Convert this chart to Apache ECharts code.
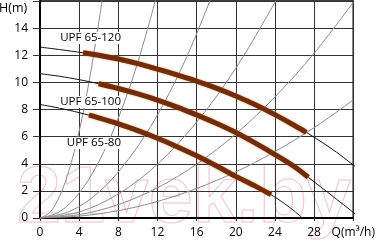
<!DOCTYPE html>
<html><head><meta charset="utf-8">
<script src="https://cdn.jsdelivr.net/npm/echarts@6/dist/echarts.min.js"></script>
<style>html,body{margin:0;padding:0;background:#fff}#c{width:378px;height:246px}</style>
</head><body><div id="c"></div>
<script>
// axis ticks
const xTicks = [0, 4, 8, 12, 16, 20, 24, 28];
const yTicks = [0, 2, 4, 6, 8, 10, 12, 14];
const xName = 'Q(m³/h)';
const yName = 'H(m)';

// pump curves (Q in m3/h, H in m)
const pumpNames = ['UPF 65-120', 'UPF 65-100', 'UPF 65-80'];
const q120 = [0, 2, 4.4, 6, 8, 10, 12, 14, 16, 18, 20, 22, 24, 26, 27.2, 30, 32.2];
const h120 = [12.6, 12.42, 12.18, 12.0, 11.72, 11.38, 10.98, 10.55, 10.1, 9.58, 9.0, 8.35, 7.62, 6.82, 6.32, 5.0, 3.8];
const q100 = [0, 2, 4, 6, 8, 10, 12, 14, 16, 18, 20, 22, 24, 26, 27.4, 30, 32.2];
const h100 = [10.64, 10.45, 10.2, 9.9, 9.55, 9.15, 8.7, 8.18, 7.6, 6.98, 6.3, 5.52, 4.68, 3.78, 3.0, 1.55, 0.3];
const q80 = [0, 2, 4, 5, 6, 8, 10, 12, 14, 16, 18, 20, 22, 23.6, 25, 26, 26.8];
const h80 = [8.37, 8.1, 7.77, 7.58, 7.38, 6.94, 6.44, 5.88, 5.26, 4.59, 3.85, 3.07, 2.35, 1.72, 1.05, 0.5, 0];
// working ranges (thick brown part)
const work120 = [4.4, 27.2];
const work100 = [6, 27.4];
const work80 = [5, 23.6];

// system curves (grey)
const s1Q = [0, 1, 2, 3, 4, 5, 6, 6.6];
const s1H = [0, 0.4, 1.6, 3.6, 6.4, 10, 14.4, 17.4];
const s2Q = [0, 2, 4, 6, 8, 10, 12];
const s2H = [0, 0.46, 1.84, 4.14, 7.36, 11.5, 16.6];
const s3Q = [0, 3, 6, 9, 12, 15, 18];
const s3H = [0, 0.48, 1.9, 4.3, 7.6, 11.9, 17.2];
const s4Q = [0, 4, 8, 12, 16, 20, 24, 25];
const s4H = [0, 0.44, 1.77, 3.97, 7.07, 11.04, 15.9, 17.25];
const s5Q = [0, 4, 8, 12, 16, 20, 24, 28, 32];
const s5H = [0, 0.25, 0.99, 2.23, 3.97, 6.2, 8.93, 12.15, 15.9];
const s6Q = [0, 4, 8, 12, 16, 20, 24, 28, 32];
const s6H = [0, 0.14, 0.54, 1.22, 2.18, 3.4, 4.9, 6.66, 8.7];

const zip = (q, h) => q.map((v, i) => [v, h[i]]);
const part = (q, h, r) => zip(q, h).filter(p => p[0] >= r[0] - 1e-9 && p[0] <= r[1] + 1e-9);

const FONT = 'Open Sans';
const sysSeries = [[s1Q, s1H], [s2Q, s2H], [s3Q, s3H], [s4Q, s4H], [s5Q, s5H], [s6Q, s6H]].map(([q, h]) => ({
  type: 'line', data: zip(q, h), smooth: 0.35, symbol: 'none', silent: true, z: 3,
  lineStyle: { color: '#8c8c8c', width: 1 }
}));
const pumps = [[q120, h120, work120], [q100, h100, work100], [q80, h80, work80]];
const thinSeries = pumps.map(([q, h]) => ({
  type: 'line', data: zip(q, h), smooth: 0.3, symbol: 'none', silent: true, z: 4,
  lineStyle: { color: '#111', width: 1 }
}));
const thickSeries = pumps.map(([q, h, r]) => ({
  type: 'line', data: part(q, h, r), smooth: 0.3, symbol: 'none', silent: true, z: 5,
  lineStyle: { color: '#712c0b', width: 5, cap: 'butt', shadowColor: 'rgba(230,120,40,0.85)', shadowBlur: 2 }
}));

const chart = echarts.init(document.getElementById('c'), null, { renderer: 'canvas' });
chart.setOption({
  animation: false,
  backgroundColor: '#fff',
  grid: { left: 40, right: 24, top: 1, bottom: 28, show: true, borderColor: '#000', borderWidth: 1.5, backgroundColor: 'transparent' },
  xAxis: {
    type: 'value', min: 0, max: 32, interval: 4,
    axisLine: { lineStyle: { color: '#000', width: 2 } },
    axisTick: { show: true, length: 3, lineStyle: { color: '#333' } },
    splitLine: { show: true, lineStyle: { color: '#333', width: 1 } },
    axisLabel: { margin: 9, color: '#000', fontFamily: FONT, fontSize: 12,
      formatter: v => (xTicks.includes(v) ? String(v) : (v === 32 ? xName : '')) }
  },
  yAxis: {
    type: 'value', min: 0, max: 16, interval: 2,
    axisLine: { show: true, lineStyle: { color: '#000', width: 2 } },
    axisTick: { show: true, length: 7, lineStyle: { color: '#333' } },
    splitLine: { show: true, lineStyle: { color: '#333', width: 1 } },
    axisLabel: { margin: 12, color: '#000', fontFamily: FONT, fontSize: 12,
      formatter: v => (yTicks.includes(v) ? String(v) : '') }
  },
  graphic: [
    { type: 'text', z: -10, silent: true, style: { text: '21vek.by', x: 17, y: 200, font: 'bold 79px "Liberation Sans"', fill: 'transparent', stroke: '#f3c3d3', lineWidth: 1, verticalAlign: 'middle' } },
    { type: 'text', z: 100, style: { text: yName, x: -1, y: 8, font: '12.5px "' + FONT + '"', fill: '#000', verticalAlign: 'middle' } },
    { type: 'text', z: 100, style: { text: pumpNames[0], x: 122, y: 38, align: 'right', verticalAlign: 'middle', font: '11.5px "' + FONT + '"', fill: '#000', backgroundColor: '#fff', padding: [0, 1] } },
    { type: 'text', z: 100, style: { text: pumpNames[1], x: 122, y: 102, align: 'right', verticalAlign: 'middle', font: '11.5px "' + FONT + '"', fill: '#000', backgroundColor: '#fff', padding: [0, 1] } },
    { type: 'text', z: 100, style: { text: pumpNames[2], x: 122, y: 143, align: 'right', verticalAlign: 'middle', font: '11.5px "' + FONT + '"', fill: '#000', backgroundColor: '#fff', padding: [0, 1] } }
  ],
  series: [...sysSeries, ...thinSeries, ...thickSeries]
});
</script></body></html>
